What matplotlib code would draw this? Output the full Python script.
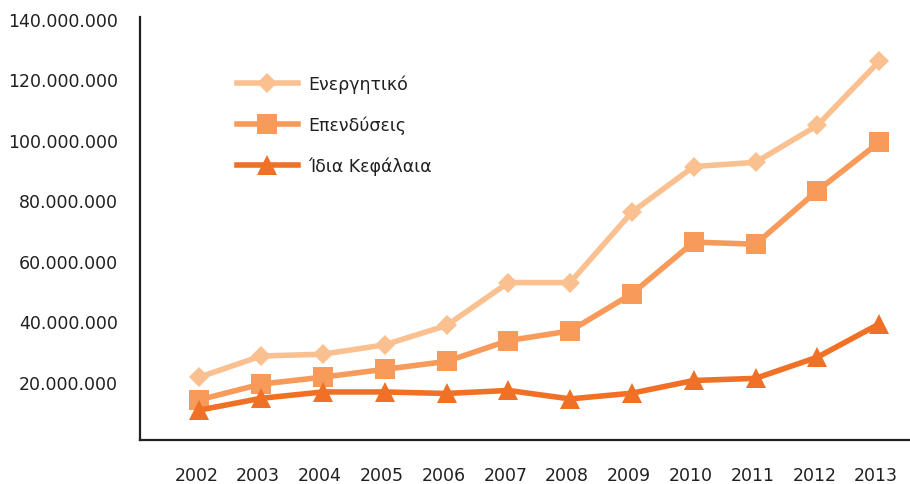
import matplotlib
matplotlib.use("Agg")
import matplotlib.pyplot as plt
import matplotlib.transforms as mtransforms
from matplotlib.ticker import FuncFormatter

years = ["2002", "2003", "2004", "2005", "2006", "2007", "2008",
         "2009", "2010", "2011", "2012", "2013"]
energitiko = [20.8e6, 27.8e6, 28.4e6, 31.5e6, 37.9e6, 52.1e6, 52.1e6,
              75.4e6, 90.5e6, 91.9e6, 104.1e6, 125.3e6]
ependyseis = [13.3e6, 18.5e6, 20.8e6, 23.4e6, 26.0e6, 32.9e6, 36.1e6,
              48.4e6, 65.5e6, 64.8e6, 82.5e6, 98.5e6]
idia_kefalaia = [9.9e6, 13.8e6, 15.9e6, 15.9e6, 15.4e6, 16.4e6, 13.6e6,
                 15.5e6, 19.7e6, 20.4e6, 27.4e6, 38.4e6]
labels = ["Ενεργητικό", "Επενδύσεις", "Ίδια Κεφάλαια"]

c1, c2, c3 = "#FAC090", "#F79A5A", "#F07026"
txt = "#231F20"

plt.rcParams['font.family'] = ['DejaVu Sans']

fig = plt.figure(figsize=(9.10, 4.85), dpi=100)
ax = fig.add_axes([140/910, 1 - 441/485, 770/910, (441 - 18)/485])

x = list(range(len(years)))
ax.plot(x, energitiko, color=c1, lw=4, marker='D', ms=10.5, mew=0,
        label=labels[0])
ax.plot(x, ependyseis, color=c2, lw=4, marker='s', ms=14.5, mew=0,
        label=labels[1])
ax.plot(x, idia_kefalaia, color=c3, lw=4, marker='^', ms=14.5, mew=0,
        label=labels[2])

ax.set_ylim(0, 140e6)
ax.set_xlim(-0.96, 11.5)
ax.set_xticks(x)
ax.set_xticklabels(years)
ax.set_yticks([20e6, 40e6, 60e6, 80e6, 100e6, 120e6, 140e6])
ax.yaxis.set_major_formatter(FuncFormatter(lambda v, p: f"{int(v):,}".replace(",", ".")))

for s in ["top", "right"]:
    ax.spines[s].set_visible(False)
for s in ["left", "bottom"]:
    ax.spines[s].set_color(txt)
    ax.spines[s].set_linewidth(1.6)

ax.tick_params(axis='y', length=0, pad=16, labelsize=12.5, labelcolor=txt)
ax.tick_params(axis='x', length=0, pad=19, labelsize=12.5, labelcolor=txt)

off = mtransforms.ScaledTranslation(0, -2/100, fig.dpi_scale_trans)
for lab in ax.get_yticklabels():
    lab.set_transform(lab.get_transform() + off)
offx = mtransforms.ScaledTranslation(-3/100, 0, fig.dpi_scale_trans)
for lab in ax.get_xticklabels():
    lab.set_transform(lab.get_transform() + offx)

leg = ax.legend(loc='upper left', bbox_to_anchor=(237/910, 1 - 76/485),
                bbox_transform=fig.transFigure, frameon=False,
                fontsize=12.5, handlelength=3.5, handletextpad=0.6,
                labelspacing=1.27, borderpad=0, borderaxespad=0)
for t in leg.get_texts():
    t.set_color(txt)

fig.savefig("out.png", dpi=100)
